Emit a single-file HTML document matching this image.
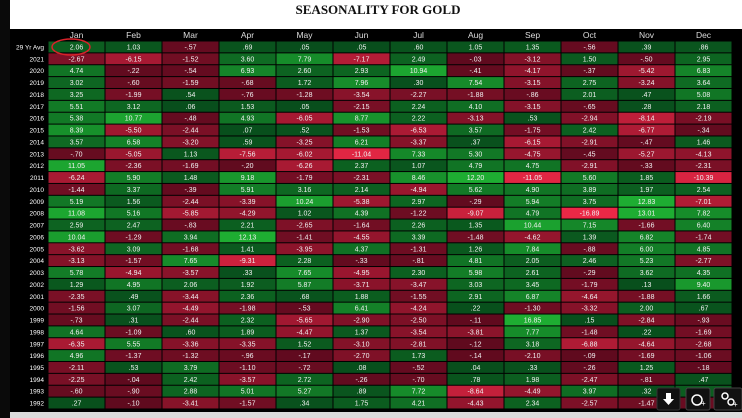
<!DOCTYPE html>
<html><head><meta charset="utf-8"><style>
html,body{margin:0;padding:0;width:742px;height:418px;overflow:hidden;background:#fff;font-family:"Liberation Sans",sans-serif}
</style></head><body>
<svg id="chart" width="742" height="418" viewBox="0 0 742 418" xmlns="http://www.w3.org/2000/svg">
<rect x="0" y="0" width="742" height="418" fill="#fff"/>
<rect x="0" y="0" width="10" height="418" fill="#0a0a0a"/>
<rect x="10" y="29" width="732" height="383" fill="#000"/>
<rect x="10" y="412" width="732" height="6" fill="#dcdcdc"/>
<text x="378" y="14" text-anchor="middle" font-family="Liberation Serif" font-weight="bold" font-size="13" fill="#111">SEASONALITY FOR GOLD</text>
<g id="cells"></g>
<ellipse cx="71" cy="47" rx="19" ry="8" fill="none" stroke="#d8222a" stroke-width="1.5"/>
<g><rect x="657" y="388" width="23" height="22" rx="2" fill="#111" stroke="#333"/><path d="M666 393h5v6h3l-5.5 6-5.5-6h3z" fill="#fff"/></g>
<g><rect x="686" y="388" width="24" height="22" rx="2" fill="#111" stroke="#444"/><circle cx="697" cy="400" r="5" fill="none" stroke="#fff" stroke-width="1.5"/><text x="701" y="406" font-size="8" fill="#fff">+</text></g>
<g><rect x="714" y="388" width="28" height="22" rx="2" fill="#111" stroke="#444"/><circle cx="725" cy="396" r="3" fill="none" stroke="#fff" stroke-width="1.5"/><circle cx="731" cy="402" r="3" fill="none" stroke="#fff" stroke-width="1.5"/><text x="733" y="407" font-size="8" fill="#fff">+</text></g>
</svg>
<script>
const months=["Jan","Feb","Mar","Apr","May","Jun","Jul","Aug","Sep","Oct","Nov","Dec"];
const rowLabels=["29 Yr Avg","2021","2020","2019","2018","2017","2016","2015","2014","2013","2012","2011","2010","2009","2008","2007","2006","2005","2004","2003","2002","2001","2000","1999","1998","1997","1996","1995","1994","1993","1992"];
const values=[
[2.06,1.03,-.57,.69,.05,.05,.60,1.05,1.35,-.56,.39,.86],
[-2.67,-6.15,-1.52,3.60,7.79,-7.17,2.49,-.03,-3.12,1.50,-.50,2.95],
[4.74,-.22,-.54,6.93,2.60,2.93,10.94,-.41,-4.17,-.37,-5.42,6.83],
[3.02,-.60,-1.59,-.68,1.72,7.96,.30,7.54,-3.15,2.75,-3.24,3.64],
[3.25,-1.99,.54,-.76,-1.28,-3.54,-2.27,-1.88,-.86,2.01,.47,5.08],
[5.51,3.12,.06,1.53,.05,-2.15,2.24,4.10,-3.15,-.65,.28,2.18],
[5.38,10.77,-.48,4.93,-6.05,8.77,2.22,-3.13,.53,-2.94,-8.14,-2.19],
[8.39,-5.50,-2.44,.07,.52,-1.53,-6.53,3.57,-1.75,2.42,-6.77,-.34],
[3.57,6.58,-3.20,.59,-3.25,6.21,-3.37,.37,-6.15,-2.91,-.47,1.46],
[-.70,-5.05,1.13,-7.56,-6.02,-11.04,7.33,5.30,-4.75,-.45,-5.27,-4.13],
[11.05,-2.36,-1.69,-.20,-6.26,2.37,1.07,4.79,4.75,-2.91,-.33,-2.31],
[-6.24,5.90,1.48,9.18,-1.79,-2.31,8.46,12.20,-11.05,5.60,1.85,-10.39],
[-1.44,3.37,-.39,5.91,3.16,2.14,-4.94,5.62,4.90,3.89,1.97,2.54],
[5.19,1.56,-2.44,-3.39,10.24,-5.38,2.97,-.29,5.94,3.75,12.83,-7.01],
[11.08,5.16,-5.85,-4.29,1.02,4.39,-1.22,-9.07,4.79,-16.89,13.01,7.82],
[2.59,2.47,-.83,2.21,-2.65,-1.64,2.26,1.35,10.44,7.15,-1.66,6.40],
[10.04,-1.29,3.94,12.13,-1.41,-4.55,3.39,-1.48,-4.62,1.39,6.82,-1.74],
[-3.62,3.09,-1.68,1.41,-3.95,4.37,-1.31,1.26,7.84,-.88,6.00,4.85],
[-3.13,-1.57,7.65,-9.31,2.28,-.33,-.81,4.81,2.05,2.46,5.23,-2.77],
[5.78,-4.94,-3.57,.33,7.65,-4.95,2.30,5.98,2.61,-.29,3.62,4.35],
[1.29,4.95,2.06,1.92,5.87,-3.71,-3.47,3.03,3.45,-1.79,.13,9.40],
[-2.35,.49,-3.44,2.36,.68,1.88,-1.55,2.91,6.87,-4.64,-1.88,1.66],
[-1.56,3.07,-4.49,-1.98,-.53,6.41,-4.24,.22,-1.30,-3.32,2.00,.67],
[-.73,.31,-2.44,2.32,-5.65,-2.90,-2.50,-.11,16.85,.15,-2.84,-.93],
[4.64,-1.09,.60,1.89,-4.47,1.37,-3.54,-3.81,7.77,-1.48,.22,-1.69],
[-6.35,5.55,-3.36,-3.35,1.52,-3.10,-2.81,-.12,3.18,-6.88,-4.64,-2.68],
[4.96,-1.37,-1.32,-.96,-.17,-2.70,1.73,-.14,-2.10,-.09,-1.69,-1.06],
[-2.11,.53,3.79,-1.10,-.72,.08,-.52,.04,.33,-.26,1.25,-.18],
[-2.25,-.04,2.42,-3.57,2.72,-.26,-.70,.78,1.98,-2.47,-.81,.47],
[-.60,-.90,2.88,5.01,5.27,.89,7.72,-8.64,-4.49,3.97,.32,1.88],
[.27,-.10,-3.41,-1.57,.34,1.75,4.21,-4.43,2.34,-2.57,-1.47,-.85]
];
const NS="http://www.w3.org/2000/svg";
const g=document.getElementById('cells');
const x0=48,colW=57,y0=41,rowH=11.87,hdrY=29;
const xOf=c=>x0+c*colW;
const yOf=r=>y0+r*rowH;
function fmt(v){let s=Math.abs(v).toFixed(2);if(s.startsWith("0"))s=s.slice(1);return (v<0?"-":"")+s;}
function color(v){const t=Math.min(Math.abs(v)/12,1);
 if(v>=0){return `rgb(${Math.round(8+t*22)},${Math.round(78+t*95)},${Math.round(28+t*22)})`;}
 return `rgb(${Math.round(95+t*140)},${Math.round(10+t*30)},${Math.round(30+t*40)})`;}
months.forEach((m,c)=>{
 const t=document.createElementNS(NS,'text');
 t.setAttribute('x',xOf(c)+colW/2);t.setAttribute('y',hdrY+9);
 t.setAttribute('text-anchor','middle');t.setAttribute('font-size','8.5');t.setAttribute('fill','#ddd');
 
 
 t.textContent=m;g.appendChild(t);
});
rowLabels.forEach((lab,r)=>{
 const t=document.createElementNS(NS,'text');
 t.setAttribute('x',44);t.setAttribute('y',yOf(r)+8.5);
 t.setAttribute('text-anchor','end');t.setAttribute('font-size','6.5');t.setAttribute('fill','#fff');
 
 
 t.textContent=lab;g.appendChild(t);
 values[r].forEach((v,c)=>{
  const rc=document.createElementNS(NS,'rect');
  rc.setAttribute('x',xOf(c)+0.5);rc.setAttribute('y',yOf(r)+0.5);
  rc.setAttribute('width',colW-1);rc.setAttribute('height',rowH-1);
  rc.setAttribute('fill',color(v));
  
  
  g.appendChild(rc);
  const tx=document.createElementNS(NS,'text');
  tx.setAttribute('x',xOf(c)+colW/2);tx.setAttribute('y',yOf(r)+8.5);
  tx.setAttribute('text-anchor','middle');tx.setAttribute('font-size','7');tx.setAttribute('fill','#f0f0f0');
  
  
  tx.textContent=fmt(v);g.appendChild(tx);
 });
});
</script>
</body></html>
